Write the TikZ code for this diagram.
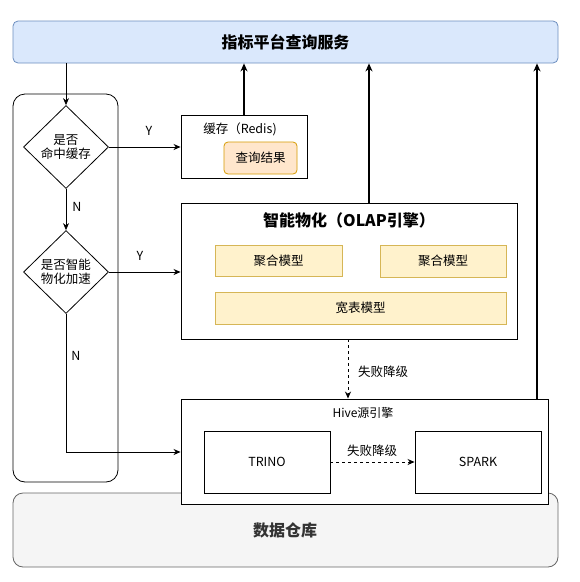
\documentclass[tikz,border=0pt]{standalone}
\usepackage{fontspec}
\setmainfont{Noto Sans CJK SC}
\usepackage{tikz}
\usetikzlibrary{arrows.meta,shapes.geometric}

\definecolor{barfill}{HTML}{DAE8FC}
\definecolor{barline}{HTML}{6C8EBF}
\definecolor{resfill}{HTML}{FFE6CC}
\definecolor{resline}{HTML}{D79B00}
\definecolor{modfill}{HTML}{FFF2CC}
\definecolor{modline}{HTML}{D6B656}
\definecolor{dwfill}{HTML}{F5F5F5}
\definecolor{dwline}{HTML}{666666}

\begin{document}
\begin{tikzpicture}[x=1pt,y=-1pt,
	every node/.style={black,inner sep=0pt,font=\fontsize{12.5}{14}\selectfont},
	box/.style={draw,fill=white,line width=0.9pt},
	model/.style={draw=modline,fill=modfill,line width=0.8pt},
	decision/.style={diamond,draw,fill=white,line width=0.8pt,minimum width=85pt,minimum height=83pt,align=center},
	title/.style={font=\fontsize{16}{18}\selectfont\bfseries},
	flow/.style={-{Stealth[length=7pt,width=6pt]},line width=0.8pt},
	ret/.style={-{Stealth[length=8pt,width=7pt]},line width=1.8pt}]
	\useasboundingbox (0,0) rectangle (580,582);

	\node[draw=barline,fill=barfill,rounded corners=5pt,line width=0.8pt,minimum width=545pt,minimum height=42pt] (bar) at (285.5,42) {};
	\node[title] at (bar) {指标平台查询服务};
	\node[draw=dwline,fill=dwfill,rounded corners=10pt,line width=0.8pt,minimum width=545pt,minimum height=74pt] (dw) at (285.5,530) {};
	\node[title,text=black!80] at (285,530) {数据仓库};

	\node[draw,rounded corners=12pt,line width=0.8pt,minimum width=105pt,minimum height=388pt] (group) at (65.5,288) {};
	\node[decision] (hit) at (66,147) {是否\\命中缓存};
	\node[decision] (accel) at (66,272) {是否智能\\物化加速};

	\node[box,minimum width=126pt,minimum height=63pt] (cache) at (244,146.5) {};
	\node at (240,129) {缓存（Redis)};
	\node[draw=resline,fill=resfill,rounded corners=4pt,line width=0.8pt,minimum width=73pt,minimum height=32pt] (result) at (260.5,158) {查询结果};

	\node[box,minimum width=336pt,minimum height=136pt] (olap) at (349,271) {};
	\node[title] at (349,220) {智能物化（OLAP引擎）};
	\node[model,minimum width=127pt,minimum height=31pt] (agg1) at (278.5,260.5) {聚合模型};
	\node[model,minimum width=126pt,minimum height=32pt] (agg2) at (443,261) {聚合模型};
	\node[model,minimum width=291pt,minimum height=32pt] (wide) at (360.5,308) {宽表模型};

	\node[box,minimum width=367pt,minimum height=105pt] (hive) at (364.5,451.5) {};
	\node[font=\fontsize{12}{14}\selectfont] at (363,413) {Hive源引擎};
	\node[box,minimum width=126pt,minimum height=62pt] (trino) at (267,462) {TRINO};
	\node[box,minimum width=126pt,minimum height=62pt] (spark) at (478,462) {SPARK};

	\draw[flow] (bar.south -| hit) -- (hit.north);
	\draw[flow] (hit.east) -- (cache.west |- hit);
	\node at (149,131) {Y};
	\draw[flow] (hit.south) -- (accel.north);
	\node at (77,207) {N};
	\draw[flow] (accel.east) -- (olap.west |- accel);
	\node at (140,256) {Y};
	\coordinate (turn) at (66,452);
	\draw[flow] (accel.south) -- (turn) -- (hive.west |- turn);
	\node at (76,356) {N};

	\draw[flow,dashed] (olap.south -| 348,0) -- (hive.north -| 348,0);
	\node[anchor=west] at (358,372) {失败降级};
	\draw[flow,dashed] (trino.east) -- (spark.west);
	\node at (372,451) {失败降级};

	\draw[ret] (cache.north -| 244,0) -- (bar.south -| 244,0);
	\draw[ret] (olap.north -| 369,0) -- (bar.south -| 369,0);
	\draw[ret] (hive.north -| 537,0) -- (bar.south -| 537,0);
\end{tikzpicture}
\end{document}
